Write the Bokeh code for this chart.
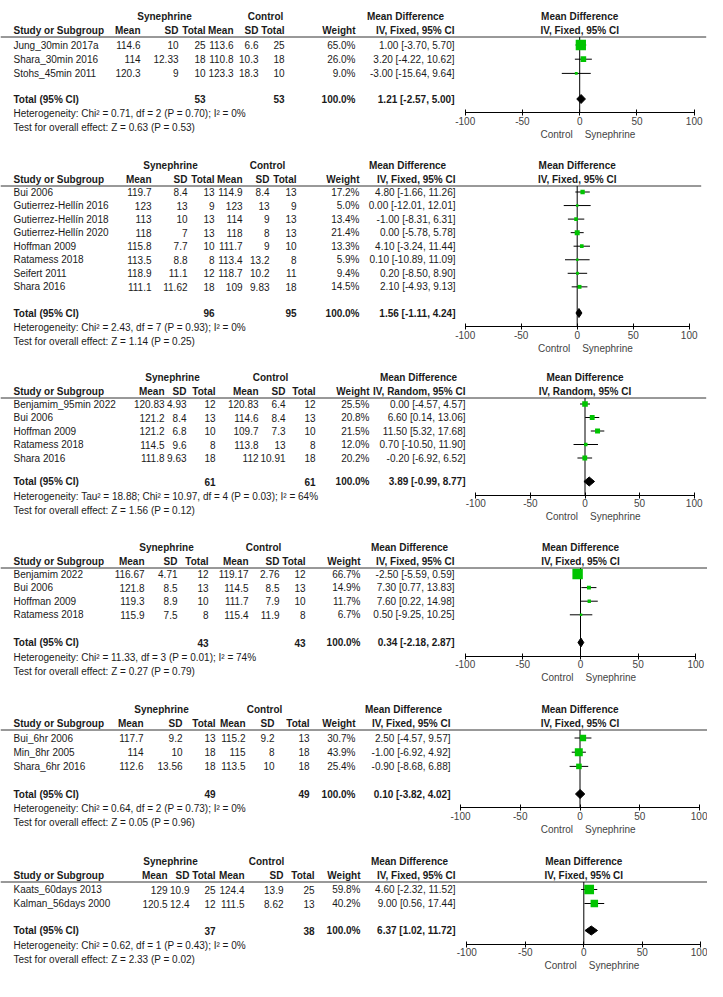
import math
from bokeh.plotting import figure
from bokeh.models import Range1d, LinearAxis, FixedTicker
from bokeh.layouts import column
from bokeh.embed import file_html
from bokeh.resources import INLINE
from bokeh.core.properties import value

# ---------------- data ----------------
group_labels = ["Synephrine", "Control"]
tick_values = [-100, -50, 0, 50, 100]
favour_labels = ["Control", "Synephrine"]

# Panel 1
study_1 = ["Jung_30min 2017a", "Shara_30min 2016", "Stohs_45min 2011"]
syn_mean_1 = [114.6, 114, 120.3]
syn_sd_1 = [10, 12.33, 9]
syn_n_1 = [25, 18, 10]
ctl_mean_1 = [113.6, 110.8, 123.3]
ctl_sd_1 = [6.6, 10.3, 18.3]
ctl_n_1 = [25, 18, 10]
weight_1 = [65.0, 26.0, 9.0]
md_1 = [1.00, 3.20, -3.00]
lo_1 = [-3.70, -4.22, -15.64]
hi_1 = [5.70, 10.62, 9.64]
total_1 = [53, 53, 1.21, -2.57, 5.00]
method_1 = "IV, Fixed, 95% CI"
het_1 = "Heterogeneity: Chi² = 0.71, df = 2 (P = 0.70); I² = 0%"
test_1 = "Test for overall effect: Z = 0.63 (P = 0.53)"

# Panel 2
study_2 = ["Bui 2006", "Gutierrez-Hellín 2016", "Gutierrez-Hellín 2018", "Gutierrez-Hellín 2020",
           "Hoffman 2009", "Ratamess 2018", "Seifert 2011", "Shara 2016"]
syn_mean_2 = [119.7, 123, 113, 118, 115.8, 113.5, 118.9, 111.1]
syn_sd_2 = [8.4, 13, 10, 7, 7.7, 8.8, 11.1, 11.62]
syn_n_2 = [13, 9, 13, 13, 10, 8, 12, 18]
ctl_mean_2 = [114.9, 123, 114, 118, 111.7, 113.4, 118.7, 109]
ctl_sd_2 = [8.4, 13, 9, 8, 9, 13.2, 10.2, 9.83]
ctl_n_2 = [13, 9, 13, 13, 10, 8, 11, 18]
weight_2 = [17.2, 5.0, 13.4, 21.4, 13.3, 5.9, 9.4, 14.5]
md_2 = [4.80, 0.00, -1.00, 0.00, 4.10, 0.10, 0.20, 2.10]
lo_2 = [-1.66, -12.01, -8.31, -5.78, -3.24, -10.89, -8.50, -4.93]
hi_2 = [11.26, 12.01, 6.31, 5.78, 11.44, 11.09, 8.90, 9.13]
total_2 = [96, 95, 1.56, -1.11, 4.24]
method_2 = "IV, Fixed, 95% CI"
het_2 = "Heterogeneity: Chi² = 2.43, df = 7 (P = 0.93); I² = 0%"
test_2 = "Test for overall effect: Z = 1.14 (P = 0.25)"

# Panel 3
study_3 = ["Benjamim_95min 2022", "Bui 2006", "Hoffman 2009", "Ratamess 2018", "Shara 2016"]
syn_mean_3 = [120.83, 121.2, 121.2, 114.5, 111.8]
syn_sd_3 = [4.93, 8.4, 6.8, 9.6, 9.63]
syn_n_3 = [12, 13, 10, 8, 18]
ctl_mean_3 = [120.83, 114.6, 109.7, 113.8, 112]
ctl_sd_3 = [6.4, 8.4, 7.3, 13, 10.91]
ctl_n_3 = [12, 13, 10, 8, 18]
weight_3 = [25.5, 20.8, 21.5, 12.0, 20.2]
md_3 = [0.00, 6.60, 11.50, 0.70, -0.20]
lo_3 = [-4.57, 0.14, 5.32, -10.50, -6.92]
hi_3 = [4.57, 13.06, 17.68, 11.90, 6.52]
total_3 = [61, 61, 3.89, -0.99, 8.77]
method_3 = "IV, Random, 95% CI"
het_3 = "Heterogeneity: Tau² = 18.88; Chi² = 10.97, df = 4 (P = 0.03); I² = 64%"
test_3 = "Test for overall effect: Z = 1.56 (P = 0.12)"

# Panel 4
study_4 = ["Benjamim 2022", "Bui 2006", "Hoffman 2009", "Ratamess 2018"]
syn_mean_4 = [116.67, 121.8, 119.3, 115.9]
syn_sd_4 = [4.71, 8.5, 8.9, 7.5]
syn_n_4 = [12, 13, 10, 8]
ctl_mean_4 = [119.17, 114.5, 111.7, 115.4]
ctl_sd_4 = [2.76, 8.5, 7.9, 11.9]
ctl_n_4 = [12, 13, 10, 8]
weight_4 = [66.7, 14.9, 11.7, 6.7]
md_4 = [-2.50, 7.30, 7.60, 0.50]
lo_4 = [-5.59, 0.77, 0.22, -9.25]
hi_4 = [0.59, 13.83, 14.98, 10.25]
total_4 = [43, 43, 0.34, -2.18, 2.87]
method_4 = "IV, Fixed, 95% CI"
het_4 = "Heterogeneity: Chi² = 11.33, df = 3 (P = 0.01); I² = 74%"
test_4 = "Test for overall effect: Z = 0.27 (P = 0.79)"

# Panel 5
study_5 = ["Bui_6hr 2006", "Min_8hr 2005", "Shara_6hr 2016"]
syn_mean_5 = [117.7, 114, 112.6]
syn_sd_5 = [9.2, 10, 13.56]
syn_n_5 = [13, 18, 18]
ctl_mean_5 = [115.2, 115, 113.5]
ctl_sd_5 = [9.2, 8, 10]
ctl_n_5 = [13, 18, 18]
weight_5 = [30.7, 43.9, 25.4]
md_5 = [2.50, -1.00, -0.90]
lo_5 = [-4.57, -6.92, -8.68]
hi_5 = [9.57, 4.92, 6.88]
total_5 = [49, 49, 0.10, -3.82, 4.02]
method_5 = "IV, Fixed, 95% CI"
het_5 = "Heterogeneity: Chi² = 0.64, df = 2 (P = 0.73); I² = 0%"
test_5 = "Test for overall effect: Z = 0.05 (P = 0.96)"

# Panel 6
study_6 = ["Kaats_60days 2013", "Kalman_56days 2000"]
syn_mean_6 = [129, 120.5]
syn_sd_6 = [10.9, 12.4]
syn_n_6 = [25, 12]
ctl_mean_6 = [124.4, 111.5]
ctl_sd_6 = [13.9, 8.62]
ctl_n_6 = [25, 13]
weight_6 = [59.8, 40.2]
md_6 = [4.60, 9.00]
lo_6 = [-2.32, 0.56]
hi_6 = [11.52, 17.44]
total_6 = [37, 38, 6.37, 1.02, 11.72]
method_6 = "IV, Fixed, 95% CI"
het_6 = "Heterogeneity: Chi² = 0.62, df = 1 (P = 0.43); I² = 0%"
test_6 = "Test for overall effect: Z = 2.33 (P = 0.02)"

PANELS = [
    dict(study=study_1, sm=syn_mean_1, ssd=syn_sd_1, sn=syn_n_1, cm=ctl_mean_1, csd=ctl_sd_1, cn=ctl_n_1,
         w=weight_1, md=md_1, lo=lo_1, hi=hi_1, tot=total_1, method=method_1, het=het_1, test=test_1),
    dict(study=study_2, sm=syn_mean_2, ssd=syn_sd_2, sn=syn_n_2, cm=ctl_mean_2, csd=ctl_sd_2, cn=ctl_n_2,
         w=weight_2, md=md_2, lo=lo_2, hi=hi_2, tot=total_2, method=method_2, het=het_2, test=test_2),
    dict(study=study_3, sm=syn_mean_3, ssd=syn_sd_3, sn=syn_n_3, cm=ctl_mean_3, csd=ctl_sd_3, cn=ctl_n_3,
         w=weight_3, md=md_3, lo=lo_3, hi=hi_3, tot=total_3, method=method_3, het=het_3, test=test_3),
    dict(study=study_4, sm=syn_mean_4, ssd=syn_sd_4, sn=syn_n_4, cm=ctl_mean_4, csd=ctl_sd_4, cn=ctl_n_4,
         w=weight_4, md=md_4, lo=lo_4, hi=hi_4, tot=total_4, method=method_4, het=het_4, test=test_4),
    dict(study=study_5, sm=syn_mean_5, ssd=syn_sd_5, sn=syn_n_5, cm=ctl_mean_5, csd=ctl_sd_5, cn=ctl_n_5,
         w=weight_5, md=md_5, lo=lo_5, hi=hi_5, tot=total_5, method=method_5, het=het_5, test=test_5),
    dict(study=study_6, sm=syn_mean_6, ssd=syn_sd_6, sn=syn_n_6, cm=ctl_mean_6, csd=ctl_sd_6, cn=ctl_n_6,
         w=weight_6, md=md_6, lo=lo_6, hi=hi_6, tot=total_6, method=method_6, het=het_6, test=test_6),
]

# ---------------- layout (page pixel positions) ----------------
# top: group-header line, r0: first study row, dr: row pitch, yt: total row
LAYOUT = [
    dict(top=24, r0=52.5, dr=14.2, yt=106.5, name_x=21, cols=[148, 186, 213, 241, 266, 292, 363],
         md_x=462, md_hdr=413, syn_c=172, ctl_c=273, fx=(472.7, 701.7)),
    dict(top=173, r0=199.5, dr=13.55, yt=320.5, name_x=21, cols=[159, 195, 222, 250, 277, 304, 367],
         md_x=463, md_hdr=415, syn_c=178, ctl_c=275, fx=(472.7, 696.7)),
    dict(top=385, r0=411.5, dr=13.5, yt=489, name_x=21, cols=[172, 194, 223, 266, 293, 323, 377],
         md_x=473, md_hdr=426, syn_c=180, ctl_c=278, fx=(483.3, 701.7)),
    dict(top=555, r0=581.5, dr=13.6, yt=650, name_x=21, cols=[152, 185, 216, 256, 287, 313, 368],
         md_x=462, md_hdr=417, syn_c=174, ctl_c=271, fx=(472.7, 703.3)),
    dict(top=717, r0=745.5, dr=14.2, yt=801.5, name_x=21, cols=[151, 190, 223, 253, 282, 317, 363],
         md_x=458, md_hdr=411, syn_c=169, ctl_c=272, fx=(468.0, 707.0)),
    dict(top=869, r0=897, dr=14.0, yt=938, name_x=21, cols=[175, 197, 223, 252, 291, 322, 368],
         md_x=463, md_hdr=417, syn_c=178, ctl_c=274, fx=(474.3, 708.3)),
]
BOUNDS = [8, 158, 370, 541, 701, 853, 989]
W = 707

TXT = "#1a1a1a"
GRAY = "#444444"
FONT = "Liberation Sans"
FS = "10px"
GREEN = "#00c400"


def txt(fig, xs, ys, texts, align="left", bold=False, rng=None, color=TXT, x_offset=0):
    kw = {}
    if rng is not None:
        kw["x_range_name"] = rng
    fig.text(x=xs, y=ys, text=texts, text_align=align, text_baseline="middle",
             text_font=value(FONT), text_font_size=FS,
             text_font_style="bold" if bold else "normal", text_color=color,
             x_offset=x_offset, **kw)


def build_panel(P, L, y0, y1):
    fig = figure(width=W, height=y1 - y0, x_range=Range1d(8, 8 + W), y_range=Range1d(y1, y0),
                 output_backend="svg", toolbar_location=None, min_border=0,
                 x_axis_location=None, y_axis_location=None)
    fig.grid.visible = False
    fig.outline_line_color = None
    a, b = L["fx"]
    k = 200.0 / (b - a)
    fig.extra_x_ranges = {"md": Range1d(-100 - (a - 8) * k, 100 + (8 + W - b) * k)}

    n = len(P["study"])
    T = L["top"]
    y_h1, y_h2, y_line = T, T + 13.5, T + 20.5
    ys = [L["r0"] + L["dr"] * i for i in range(n)]
    y_tot = L["yt"]
    y_het, y_test = y_tot + 14.5, y_tot + 28.5
    y_axis, y_fav = y_tot + 13.5, y_tot + 35
    c = L["cols"]

    # headers
    txt(fig, [L["syn_c"], L["ctl_c"]], [y_h1, y_h1], group_labels, "center", True)
    txt(fig, [L["md_hdr"]], [y_h1], ["Mean Difference"], "center", True)
    txt(fig, [L["name_x"]], [y_h2], ["Study or Subgroup"], "left", True)
    txt(fig, c + [L["md_x"]], [y_h2] * 8,
        ["Mean", "SD", "Total", "Mean", "SD", "Total", "Weight", P["method"]], "right", True)
    txt(fig, [0, 0], [y_h1, y_h2], ["Mean Difference", P["method"]], "center", True, rng="md")
    fig.segment(x0=[8], x1=[min(b + 12, 715)], y0=[y_line], y1=[y_line], line_color="#333333", line_width=1)

    # study rows
    txt(fig, [L["name_x"]] * n, ys, P["study"], "left")
    for cx, vals in zip(c[:6], [P["sm"], P["ssd"], P["sn"], P["cm"], P["csd"], P["cn"]]):
        txt(fig, [cx] * n, ys, [f"{v:g}" for v in vals], "right")
    txt(fig, [c[6]] * n, ys, [f"{w:.1f}%" for w in P["w"]], "right")
    txt(fig, [L["md_x"]] * n, ys,
        [f"{m:.2f} [{l:.2f}, {h:.2f}]" for m, l, h in zip(P["md"], P["lo"], P["hi"])], "right")

    # totals
    sN, cN, tm, tl, th = P["tot"]
    txt(fig, [L["name_x"]], [y_tot], ["Total (95% CI)"], "left", True)
    txt(fig, [c[2], c[5], c[6], L["md_x"]], [y_tot] * 4,
        [f"{sN}", f"{cN}", "100.0%", f"{tm:.2f} [{tl:.2f}, {th:.2f}]"], "right", True)
    txt(fig, [L["name_x"], L["name_x"]], [y_het, y_test], [P["het"], P["test"]], "left")

    # forest
    fig.segment(x0=[0], x1=[0], y0=[y_line], y1=[y_axis], line_color="black", line_width=1, x_range_name="md")
    fig.segment(x0=P["lo"], x1=P["hi"], y0=ys, y1=ys, line_color="black", line_width=1, x_range_name="md")
    sizes = [max(2.5, 0.68 * w ** 0.65) for w in P["w"]]
    fig.scatter(x=P["md"], y=ys, size=sizes, marker="square", fill_color=GREEN, line_color=None,
                x_range_name="md")
    fig.patch(x=[tl, tm, th, tm], y=[y_tot, y_tot - 4.5, y_tot, y_tot + 4.5],
              fill_color="black", line_color="black", x_range_name="md")

    ax = LinearAxis(x_range_name="md", fixed_location=y_axis, bounds=(-100, 100),
                    ticker=FixedTicker(ticks=tick_values),
                    major_label_overrides={t: str(t) for t in tick_values},
                    major_tick_in=3, major_tick_out=3, minor_tick_line_color=None,
                    major_label_standoff=1, major_label_text_font=FONT,
                    major_label_text_font_size=FS, major_label_text_color=GRAY,
                    axis_line_color="black", major_tick_line_color="black")
    fig.add_layout(ax, "below")

    txt(fig, [0], [y_fav], [favour_labels[0]], "right", rng="md", color=GRAY, x_offset=-7)
    txt(fig, [0], [y_fav], [favour_labels[1]], "left", rng="md", color=GRAY, x_offset=5)
    return fig


figs = [build_panel(P, L, BOUNDS[i], BOUNDS[i + 1]) for i, (P, L) in enumerate(zip(PANELS, LAYOUT))]
page = column(*figs, spacing=0)
open("out.html", "w").write(file_html(page, INLINE))
